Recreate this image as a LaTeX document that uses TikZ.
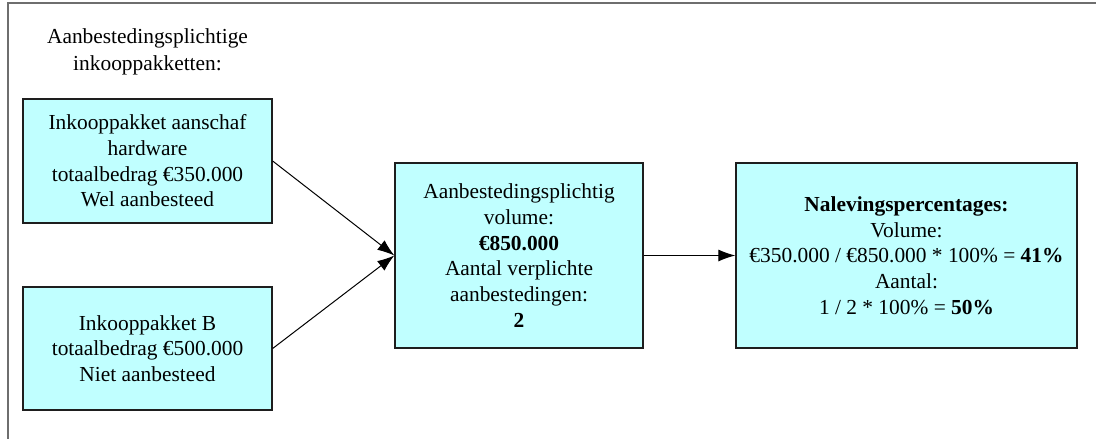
\documentclass[tikz,border=0pt]{standalone}
\usepackage{fontspec}
\setmainfont{Liberation Serif}
\usetikzlibrary{arrows.meta}
\definecolor{boxfill}{RGB}{192,255,255}
\definecolor{framegray}{RGB}{110,110,110}
\definecolor{boxline}{RGB}{30,30,30}
\begin{document}
\begin{tikzpicture}[x=1pt,y=-1pt,
  txt/.style={font=\fontsize{21.4}{25.7}\selectfont, align=center, inner sep=0pt},
  pbox/.style={txt, draw=boxline, line width=1.3pt, fill=boxfill, anchor=center},
  conn/.style={line width=1pt, -{Latex[length=17pt,width=12pt]}}]
\useasboundingbox (0,0) rectangle (1096,439);
\draw[framegray, line width=2pt] (8,440) -- (8,3) -- (1097,3);
\node[txt] (head) at (147.5,52) {Aanbestedingsplichtige\\[1.5pt]inkooppakketten:};
\node[pbox, minimum width=249pt, minimum height=124pt] (A) at (147.5,161)
  {Inkooppakket aanschaf\\hardware\\totaalbedrag €350.000\\Wel aanbesteed};
\node[pbox, minimum width=249pt, minimum height=123pt] (B) at (147.5,348.5)
  {Inkooppakket B\\totaalbedrag €500.000\\Niet aanbesteed};
\node[pbox, minimum width=248pt, minimum height=185pt] (M) at (519,255.5)
  {Aanbestedingsplichtig\\volume:\\\textbf{€850.000}\\Aantal verplichte\\aanbestedingen:\\\textbf{2}};
\node[pbox, minimum width=341pt, minimum height=185pt] (R) at (906.5,255.5)
  {\textbf{Nalevingspercentages:}\\Volume:\\€350.000 / €850.000 * 100\% = \textbf{41\%}\\Aantal:\\1 / 2 * 100\% = \textbf{50\%}};
\draw[conn] (A.east) -- (M.west);
\draw[conn] (B.east) -- (M.west);
\draw[conn] (M.east) -- (R.west);
\end{tikzpicture}
\end{document}
